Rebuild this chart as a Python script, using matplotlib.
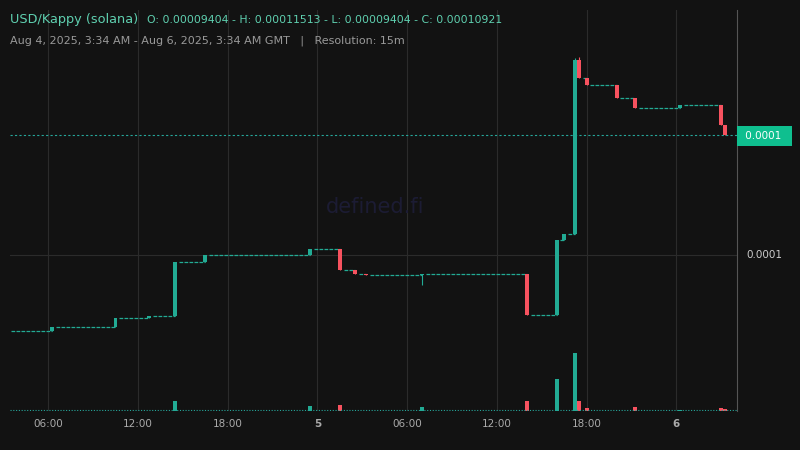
import numpy as np
import matplotlib.pyplot as plt

# hours since Aug 4 00:00 GMT, prices in units of 1e-5
times = [6.25, 10.5, 12.75, 14.5, 16.5, 23.5, 25.5, 26.5, 27.25, 31.0, 38.0,
         40.0, 40.5, 41.25, 41.5, 42.0, 44.0, 45.25, 48.25, 51.0, 51.25]
opens = [9.417, 9.447, 9.516, 9.532, 9.946, 10.0, 10.046, 9.885, 9.854, 9.846, 9.854,
         9.540, 10.115, 10.161, 11.497, 11.358, 11.305, 11.205, 11.128, 11.151, 10.998]
closes = [9.447, 9.516, 9.532, 9.946, 10.0, 10.046, 9.885, 9.854, 9.846, 9.854, 9.540,
          10.115, 10.161, 11.497, 11.358, 11.305, 11.205, 11.128, 11.151, 10.998, 10.921]
highs = [9.447, 9.516, 9.532, 9.946, 10.0, 10.046, 10.046, 9.885, 9.854, 9.854, 9.854,
         10.115, 10.161, 11.513, 11.52, 11.358, 11.305, 11.205, 11.151, 11.151, 10.998]
lows = [9.417, 9.447, 9.516, 9.532, 9.946, 10.0, 9.885, 9.854, 9.846, 9.77, 9.540,
        9.540, 10.115, 10.161, 11.358, 11.305, 11.205, 11.128, 11.128, 10.998, 10.921]
volumes = [0, 0, 0, 10, 0, 5, 6, 0, 0, 4, 10, 32, 0, 58, 10, 3, 0, 4, 1, 3, 2]
start_price = 9.417
t_start, t_end = 3.5, 51.75
tick_pos = [6, 12, 18, 24, 30, 36, 42, 48]
tick_labels = ["06:00", "12:00", "18:00", "5", "06:00", "12:00", "18:00", "6"]

bg = "#121212"
green = "#22ab94"
red = "#f7525f"

fig = plt.figure(figsize=(8, 4.5), dpi=100, facecolor=bg)
ax = fig.add_axes([0.0125, 0.0867, 0.90875, 0.8913], facecolor=bg)
ax.set_xlim(3.45, 52.05)
ax.set_ylim(8.803, 11.88)

for x in tick_pos:
    ax.axvline(x, color="#2b2b2b", lw=0.8, zorder=0)
ax.axhline(10.0, color="#2b2b2b", lw=0.8, zorder=0)

# flat stretches between moves
prev_t, prev_p = t_start, start_price
for t, o, c in zip(times, opens, closes):
    ax.hlines(o, prev_t, t, color=green, lw=0.9, linestyles=(0, (3, 1)), zorder=2)
    prev_t, prev_p = t + 0.25, c
ax.hlines(prev_p, prev_t, 51.5, color=green, lw=0.9, linestyles=(0, (3, 1)), zorder=2)

w = 0.26
for t, o, c, h, l in zip(times, opens, closes, highs, lows):
    col = green if c >= o else red
    ax.vlines(t, l, h, color=col, lw=0.8, zorder=3)
    ax.bar(t, c - o, bottom=o, width=w, color=col, zorder=3)

# current price line
ax.axhline(closes[-1], color="#26a69a", lw=0.8, ls=(0, (2, 2)), zorder=1)

# volume overlay
vax = fig.add_axes(ax.get_position(), facecolor="none")
vax.set_xlim(ax.get_xlim())
vax.set_ylim(0, 401)
vcols = [green if c >= o else red for o, c in zip(opens, closes)]
vax.bar(times, volumes, width=w, color=vcols)
vax.axhline(0.5, color="#26a69a", lw=0.8, ls=(0, (1, 1.5)))
vax.axis("off")

ax.set_xticks(tick_pos)
ax.set_xticklabels(tick_labels)
for lbl, txt in zip(ax.get_xticklabels(), tick_labels):
    if txt in ("5", "6"):
        lbl.set_fontweight("bold")
ax.tick_params(axis="x", colors="#aaaaaa", labelsize=7.5, length=0, pad=6)
ax.set_yticks([])
for s in ["top", "left", "bottom"]:
    ax.spines[s].set_visible(False)
ax.spines["right"].set_color("#555555")

fig.text(0.9325, 1 - 255 / 450, "0.0001", color="#cccccc", fontsize=7.5, va="center")
fig.text(0.9275, 1 - 136 / 450, " 0.0001  ", color="white", fontsize=7.5, va="center",
         bbox=dict(boxstyle="square,pad=0.45", fc="#0fbf8f", ec="none"))

fig.text(0.0125, 1 - 20 / 450, "USD/Kappy (solana)", color="#5fd0b0", fontsize=9.3, va="center")
fig.text(0.184, 1 - 20 / 450, "O: 0.00009404 - H: 0.00011513 - L: 0.00009404 - C: 0.00010921",
         color="#5fd0b0", fontsize=7.8, va="center")
fig.text(0.0125, 1 - 41 / 450, "Aug 4, 2025, 3:34 AM - Aug 6, 2025, 3:34 AM GMT   |   Resolution: 15m",
         color="#999999", fontsize=8, va="center")
fig.text(375 / 800, 1 - 207 / 450, "defined.fi", color="#1c1c34", fontsize=15,
         ha="center", va="center")

fig.savefig("out.png", dpi=100, facecolor=bg)
